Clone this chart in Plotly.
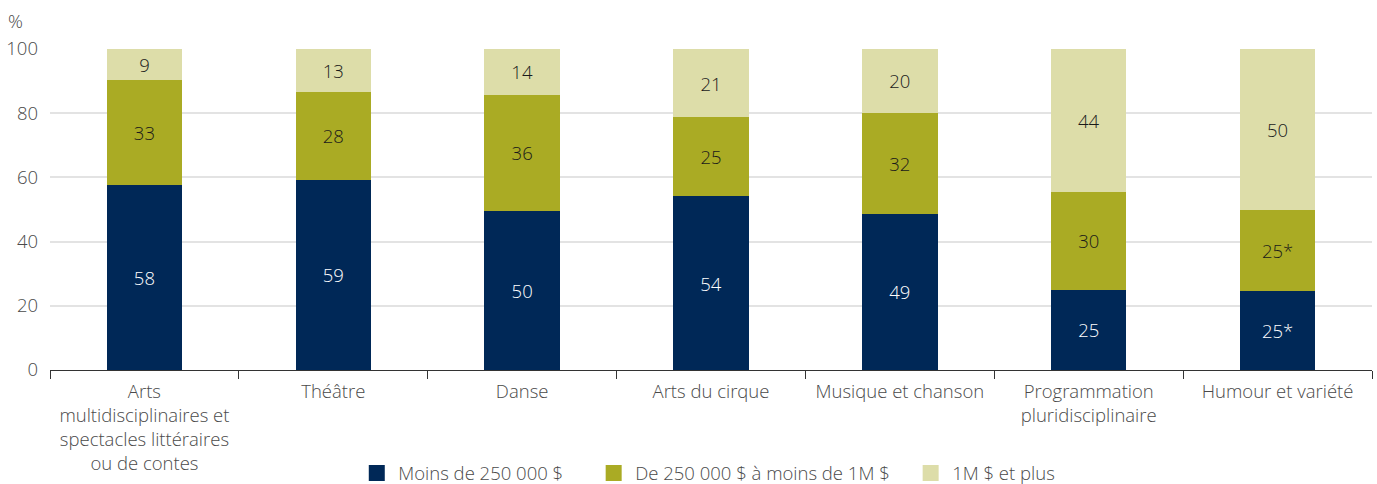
import plotly.graph_objects as go

categories = [
    "Arts<br>multidisciplinaires et<br>spectacles littéraires<br>ou de contes",
    "Théâtre",
    "Danse",
    "Arts du cirque",
    "Musique et chanson",
    "Programmation<br>pluridisciplinaire",
    "Humour et variété",
]
series_names = ["Moins de 250 000 $", "De 250 000 $ à moins de 1M $", "1M $ et plus"]
moins = [57.6, 59.2, 49.6, 54.2, 48.6, 25.0, 24.6]
milieu = [32.8, 27.5, 36.2, 24.5, 31.6, 30.4, 25.4]
plus = [9.6, 13.3, 14.2, 21.3, 19.8, 44.6, 50.0]
labels_moins = ["58", "59", "50", "54", "49", "25", "25*"]
labels_milieu = ["33", "28", "36", "25", "32", "30", "25*"]
labels_plus = ["9", "13", "14", "21", "20", "44", "50"]
y_ticks = [0, 20, 40, 60, 80, 100]

colors = ["#002857", "#AAAB24", "#DDDDA9"]
text_colors = ["#FFFFFF", "#1A1A1A", "#1A1A1A"]
legend_pad = ["\u00a0" * 5, "\u00a0" * 3, ""]
FONT = "Open Sans"
GREY = "#4A4A4A"
FS = 18.5

fig = go.Figure()
for name, vals, labs, col, tcol in zip(series_names, [moins, milieu, plus],
                                        [labels_moins, labels_milieu, labels_plus],
                                        colors, text_colors):
    fig.add_trace(go.Bar(
        x=categories, y=vals, name=name, text=labs, showlegend=False,
        textposition="inside", insidetextanchor="middle", textangle=0,
        constraintext="none",
        textfont=dict(family=FONT, size=FS, color=tcol, weight=300),
        marker=dict(color=col, line=dict(width=0)),
        hoverinfo="skip",
    ))
# legend entries with larger square swatches
for name, col, pad in zip(series_names, colors, legend_pad):
    fig.add_trace(go.Scatter(
        x=[None], y=[None], mode="markers", name=name + pad,
        marker=dict(symbol="square", size=17, color=col, line=dict(width=0)),
        hoverinfo="skip", showlegend=True,
    ))

fig.update_layout(
    barmode="stack",
    bargap=0.6,
    width=1377, height=484,
    margin=dict(l=50, r=5, t=49, b=114, autoexpand=False),
    paper_bgcolor="white", plot_bgcolor="white",
    font=dict(family=FONT, size=FS, color=GREY, weight=300),
    showlegend=True,
    legend=dict(orientation="h", x=0.514, xanchor="center", xref="container",
                y=0.022, yanchor="middle", yref="container",
                font=dict(family=FONT, size=FS, color=GREY, weight=300),
                itemwidth=33, traceorder="normal", itemclick=False, itemdoubleclick=False),
)
fig.update_yaxes(range=[0, 100], tickvals=y_ticks, showgrid=True, gridcolor="#E3E3E3",
                 gridwidth=1.5, zeroline=False, showline=False, ticks="",
                 automargin=False, ticklabelstandoff=11,
                 tickfont=dict(family=FONT, size=FS, color=GREY, weight=300), fixedrange=True)
fig.update_xaxes(showline=True, linecolor="#333333", linewidth=1.2, ticks="outside",
                 tickson="boundaries", ticklen=8, tickcolor="#333333", tickwidth=1.2,
                 automargin=False, ticklabelstandoff=5,
                 tickfont=dict(family=FONT, size=FS, color=GREY, weight=300), tickangle=0,
                 fixedrange=True)
fig.add_annotation(text="%", xref="paper", yref="paper", x=-0.033, y=1.09,
                   xanchor="left", yanchor="middle", showarrow=False,
                   font=dict(family=FONT, size=FS, color=GREY, weight=300))

fig.write_html("out.html", config={"displayModeBar": False},
               post_script="document.body.style.margin='0';document.body.style.overflow='hidden';")
